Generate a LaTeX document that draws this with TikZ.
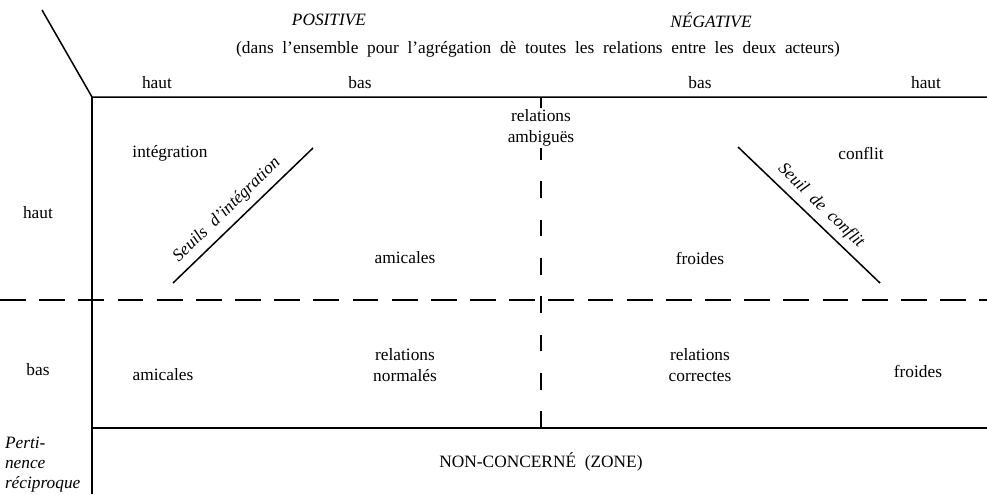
\documentclass[tikz,border=0pt]{standalone}
\usepackage{fontspec}
\setmainfont{Liberation Serif}
\usetikzlibrary{positioning}
\tikzset{
  lbl/.style={font=\fontsize{10.4}{12.5}\selectfont, align=center, inner sep=1pt},
  ilbl/.style={font=\fontsize{10.4}{12.5}\selectfont\itshape, align=center, inner sep=1pt},
  frame/.style={line width=0.9pt},
  hdash/.style={line width=0.9pt, dash pattern=on 15.5pt off 8pt},
  vdash/.style={line width=0.9pt, dash pattern=on 10pt off 13pt},
}

\begin{document}
\begin{tikzpicture}[x=0.6pt, y=-0.6pt]
        \useasboundingbox (0,0) rectangle (987,494);
        % Frame corners
        \coordinate (corner) at (92,97);
        \coordinate (slant) at (42,10);
        \coordinate (topR) at (987,97);
        \coordinate (botL) at (92,494);
        \coordinate (zoneL) at (92,428);
        \coordinate (zoneR) at (987,428);
        \coordinate (midL) at (0,300);
        \coordinate (midR) at (987,300);
        \coordinate (midT) at (541,97);
        \coordinate (midB) at (541,428);
        % Frame
        \draw[frame] (slant) -- (corner) -- (topR);
        \draw[frame] (corner) -- (botL);
        \draw[frame] (zoneL) -- (zoneR);
        % Column headers
        \node[ilbl] (pos) at (329,20) {POSITIVE};
        \node[ilbl] (neg) at (711,20) {NÉGATIVE};
        \node[lbl] (sub) at (538,49)
          {(dans\ \ l'ensemble\ \ pour\ \ l'agrégation\ \ dè\ \ toutes\ \ les\ \ relations\ \ entre\ \ les\ \ deux\ \ acteurs)};
        \node[lbl] (c1) at (157,83) {haut};
        \node[lbl] (c2) at (360,83) {bas};
        \node[lbl] (c3) at (700,83) {bas};
        \node[lbl] (c4) at (926,83) {haut};
        % Row headers
        \node[lbl] (r1) at (38,213) {haut};
        \node[lbl] (r2) at (38,370) {bas};
        \node[ilbl, align=left, anchor=west, font=\fontsize{10.4}{12}\selectfont\itshape] (pert) at (3,465)
          {Perti-\\nence\\réciproque};
        % Dashed axes
        \node[lbl] (ambig) at (541,128) {relations\\ambiguës};
        \draw[frame] (midT) -- (midT |- ambig.north);
        \draw[vdash] (midB) -- (ambig.south);
        \draw[hdash] (midL) -- (midR);
        % Cells, upper row
        \node[lbl] (integ) at (170,153) {intégration};
        \node[lbl] (confl) at (861,153) {conflit};
        \node[lbl] (amic1) at (405,258) {amicales};
        \node[lbl] (froid1) at (700,258) {froides};
        % Thresholds
        \coordinate (si1) at (173,283);
        \coordinate (si2) at (313,148);
        \coordinate (sc1) at (738,147);
        \coordinate (sc2) at (880,283);
        \draw[frame] (si1) -- (si2);
        \draw[frame] (sc1) -- (sc2);
        \node[ilbl, rotate=44] (seuilI) at (227,210) {Seuils\ \ d'intégration};
        \node[ilbl, rotate=-44] (seuilC) at (821,206) {Seuil\ \ de\ \ conflit};
        % Cells, lower row
        \node[lbl] (amic2) at (163,375) {amicales};
        \node[lbl] (norm) at (405,365) {relations\\normalés};
        \node[lbl] (corr) at (700,365) {relations\\correctes};
        \node[lbl] (froid2) at (918,371) {froides};
        % Zone
        \node[lbl] (zone) at (541,462) {NON-CONCERNÉ\ \ (ZONE)};
      \end{tikzpicture}
\end{document}
